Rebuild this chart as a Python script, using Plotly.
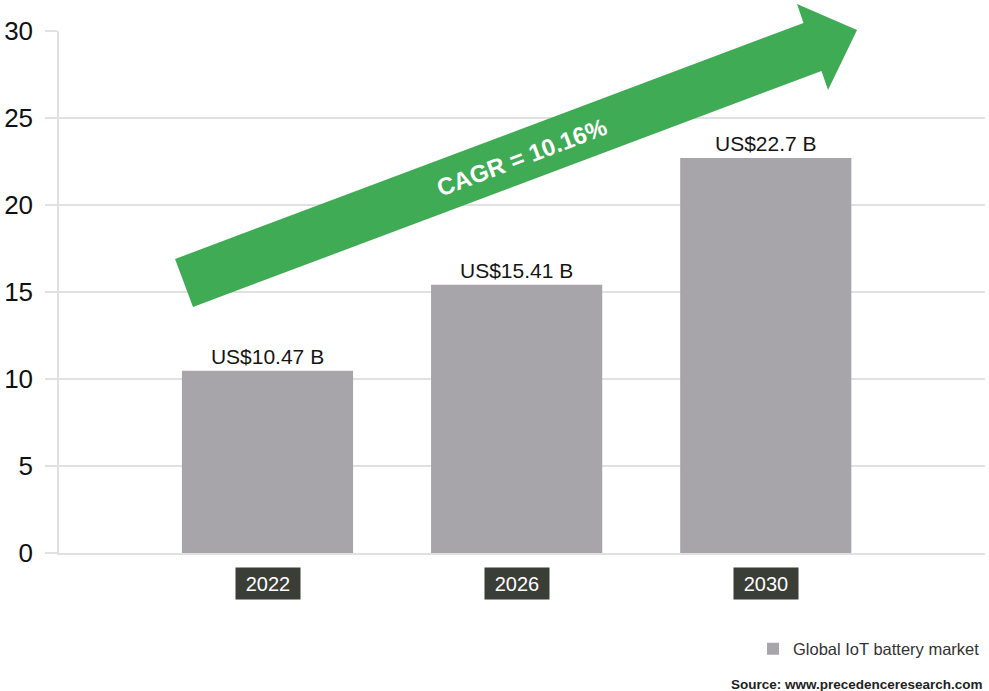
import plotly.graph_objects as go

years = ["2022", "2026", "2030"]
values = [10.47, 15.41, 22.7]
value_labels = ["US$10.47 B", "US$15.41 B", "US$22.7 B"]
series_name = "Global IoT battery market"
cagr_text = "CAGR = 10.16%"
source_text = "Source: www.precedenceresearch.com"
y_ticks = [0, 5, 10, 15, 20, 25, 30]

FONT = "Liberation Sans, Arial, Helvetica, sans-serif"
GRID = "#e1e1e1"
BAR = "#a7a5aa"
GREEN = "#3fab55"

W, H = 989, 691
L, R, T, B = 59, 985, 31, 553

def px(x, y):
    return (x - L) / (R - L), (B - y) / (B - T)

fig = go.Figure()
fig.add_trace(go.Bar(
    x=years, y=values, name=series_name,
    marker=dict(color=BAR, line=dict(width=0)),
    width=0.687,
    text=value_labels, textposition="outside",
    textfont=dict(family=FONT, size=21, color="#151515"),
    cliponaxis=False, showlegend=True,
))

arrow_px = [(175, 259), (803.5, 23), (797, 4), (857, 30), (828, 90), (821.5, 71), (193, 307)]
pts = [px(x, y) for x, y in arrow_px]
path = "M " + " L ".join(f"{a:.4f},{b:.4f}" for a, b in pts) + " Z"

annotations = []
cx, cy = px(521, 157)
annotations.append(dict(text=f"<b>{cagr_text}</b>", x=cx, y=cy, xref="paper", yref="paper",
                        xanchor="center", yanchor="middle",
                        showarrow=False, textangle=-20.6,
                        font=dict(family=FONT, size=24, color="white")))
_, ty = px(0, 583.5)
for i, yr in enumerate(years):
    annotations.append(dict(text=yr, x=i, y=ty, xref="x", yref="paper", showarrow=False,
                            xanchor="center", yanchor="middle",
                            bgcolor="#3b3d37", width=56, height=23, borderpad=4,
                            font=dict(family=FONT, size=20, color="white")))
_, sy = px(0, 684)
annotations.append(dict(text=f"<b>{source_text}</b>", x=1, y=sy, xref="paper", yref="paper",
                        xanchor="right", yanchor="middle", showarrow=False,
                        font=dict(family=FONT, size=13.5, color="#222")))

_, ly = px(0, 649)
fig.update_layout(
    width=W, height=H,
    margin=dict(l=L, r=W - R, t=T, b=H - B, autoexpand=False),
    paper_bgcolor="white", plot_bgcolor="white",
    font=dict(family=FONT),
    shapes=[dict(type="path", path=path, xref="paper", yref="paper",
                 fillcolor=GREEN, line=dict(width=0), layer="above")],
    annotations=annotations,
    legend=dict(x=1, xanchor="right", y=ly, yanchor="middle",
                font=dict(family=FONT, size=16.5, color="#333"),
                bgcolor="rgba(0,0,0,0)"),
    xaxis=dict(type="category", range=[-0.837, 2.88], showticklabels=False,
               showgrid=False, showline=True, linecolor=GRID, linewidth=1.5,
               ticks=""),
    yaxis=dict(range=[0, 30], tickvals=y_ticks, showgrid=True, gridcolor=GRID,
               gridwidth=1.5, showline=True, linecolor=GRID, linewidth=1.5,
               zeroline=False, ticks="outside", ticklen=12, tickcolor=GRID,
               tickwidth=1.5, ticklabelstandoff=7,
               tickfont=dict(family=FONT, size=26, color="#111")),
)

fig.write_html("out.html", config={"displayModeBar": False},
               post_script="document.body.style.margin='0';document.body.style.padding='0';")
